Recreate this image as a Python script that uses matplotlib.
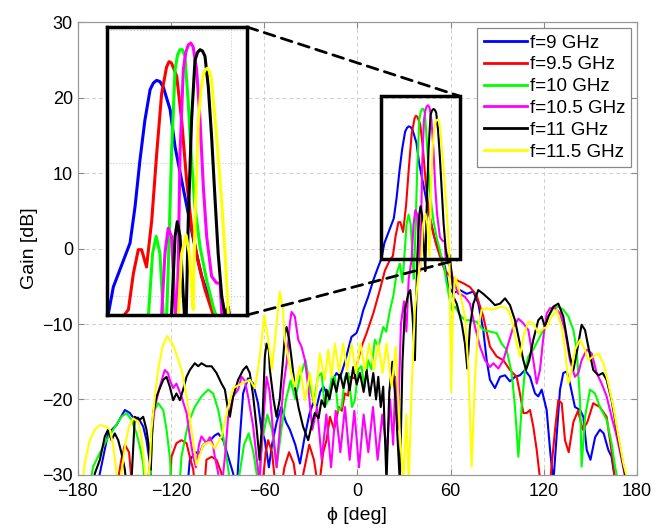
import matplotlib
matplotlib.use('Agg')
import matplotlib.pyplot as plt
from matplotlib.patches import Rectangle, ConnectionPatch

plt.rcParams['font.family'] = ['Liberation Sans', 'DejaVu Sans']

# gain patterns (phi in deg, gain in dB)
phi_9 = [-170, -166, -163, -160.5, -155.1, -149.7, -146.5, -143.3, -141.2, -137.9, -135.8, -133.6, -132,
         -110, -107.9, -104, -101.6, -99.3, -95, -92, -89.6, -86.4, -83.2, -80, -78, -76, -73.6, -70.4,
         -67.1, -64, -61.8, -59.6, -57, -55, -52, -49, -46, -43.5, -40, -37, -34, -31, -28.5, -26.3, -24,
         -22, -19, -16, -13.5, -11, -8, -5.5, -3.8, -0.6, 1.6, 3.7, 6.9, 10.2, 13.4, 15.5, 17.3, 21, 23.4,
         25.2, 27, 28.8, 30.7, 31.9, 33.1, 34.3, 35.5, 38, 39.8, 42.2, 44.6, 47.05, 49.5, 52.5, 54.3, 56.3, 58.5, 61.7,
         66, 70.3, 74.6, 77.8, 81, 83.2, 85.3, 88.5, 91.8, 95, 98.2, 101.4, 104.6, 107.8, 111.1, 114.3,
         116.4, 118.6, 121.8, 124, 126.1, 128.2, 130.4, 132.5, 134.7, 136.8, 140, 143.3, 145.4, 147.6, 150,
         153, 156.1, 158.5, 161.5, 163.6, 166, 168]
gain_9 = [-33, -30, -27, -24.5, -23.4, -21.4, -21.8, -22.7, -22.4, -23.6, -25.4, -28.5, -33,
          -33, -28, -27, -27.2, -26, -25.5, -24.8, -24.5, -25.4, -27.6, -29.8, -33, -26, -19.2, -17.2,
          -17.9, -20.5, -24, -25.4, -29, -26, -23, -21, -23, -24, -26, -28.5, -25, -22, -20.5, -21, -19,
          -18.3, -19.5, -17.5, -16.5, -17, -15, -13, -11.7, -11.2, -9.9, -8.2, -6.4, -4.2, -2.4, -1.3, 0.7, 2.7, 4.0,
          6.7, 10.2, 13.2, 15.5, 16.0, 16.2, 16.1, 15.7, 14, 11.2, 8.7, 6.2, 3.7, 1.5, -0.3, -1.3, -2.4, -5.1, -5.9,
          -5.5, -6, -5.7, -7.3, -10.8, -14.8, -17.4, -18.5, -17, -16.8, -17.6, -17, -16.8, -16.1, -17, -19.2,
          -19.6, -18.7, -21.4, -26.7, -31, -24.9, -18.7, -16.5, -16.3, -17.9, -21, -21.4, -22.3, -26.7, -28,
          -25, -24, -24.5, -26.7, -27.6, -31, -33]

phi_95 = [-156, -152, -149.7, -147, -144.5, -121, -119.7, -116.5, -113.3, -110, -107.9, -105.7, -104,
          -99, -97.2, -93.9, -90.7, -87.5, -86, -62, -59, -57.5, -55, -53, -50, -47, -44, -41, -38, -34,
          -31, -28, -25, -22, -19.9, -17.7, -15, -12, -10, -8.1, -6, -4.9, -2, -0.6, 2.6, 5.9, 10.2, 14.4,
          17.7, 20.9, 22.8, 24.6, 26.4, 27.6, 29.4, 31.3, 33.1, 34.9, 36.7, 37.6, 38.5, 40.4, 42.2, 44, 45.8,
          48.3, 50.7, 53.7, 56, 60, 63.9, 68.2, 72.4, 76.7, 81, 85.3, 89.6, 93.9, 98.2, 102.5, 104.6, 106.8,
          108.9, 111.1, 113.2, 115.4, 117.5, 120, 124, 127.2, 129.3, 131.5, 133.6, 136, 139, 142, 145, 148,
          151.8, 156, 160.4, 164.7, 167]
gain_95 = [-33, -28, -26, -27, -33, -33, -27.6, -25.8, -25.4, -25.8, -27.6, -29.3, -33,
           -33, -28, -27.6, -28, -29.8, -33, -33, -27, -25.4, -27, -31, -33, -29, -27, -28.5, -33, -29,
           -26, -28, -32, -27, -25.4, -22.3, -24, -21, -21.5, -19.2, -19.5, -17, -17.2, -15.6, -13, -11.2, -8.6, -5.5,
           -2.9, -1.5, -1.0, 1.7, 3.5, 3.5, 2.2, 5.7, 10.7, 15.2, 17.2, 17.6, 17.5, 16.5, 13.2, 8.7, 5.2,
           2.5, 0.5, -1.4, -2.8, -3.8, -4.2, -4.6, -5.1, -6.2, -9, -13, -14.3, -14.8, -16.1, -17, -19.2, -21.8,
           -21.8, -21.4, -23.6, -26.7, -30.5, -33, -31, -24, -20.1, -20.5, -25.4, -27, -23, -21.5, -24, -23,
           -20.5, -21, -22.3, -28.5, -33]

phi_10 = [-174, -170.1, -165.8, -161.5, -157.2, -151.9, -148.7, -145.4, -142.2, -140.1, -137.9, -136.5,
          -134, -131.5, -128.3, -125, -122.9, -120.8, -119, -115, -113.3, -109, -104.7, -100.4, -96.1,
          -92.9, -89.6, -86.4, -84.3, -82.8, -81, -76, -73, -70, -67, -64, -61, -58, -55, -52, -49, -46,
          -43, -40, -37, -33.4, -30.6, -28, -25.5, -23.1, -21, -18.8, -16.5, -14.5, -12.5, -10.2, -8, -5.9,
          -3.5, -1.7, 0.5, 2.6, 4.5, 6.9, 9, 11.2, 13.5, 16.6, 18.5, 20.9, 23, 25.2, 27.3, 29, 30.1, 31.6,
          32.9, 34.3, 35.5, 36.3, 37.3, 38.5, 39.8, 40.7, 41.6, 42.5, 43.4, 44.6, 45.8, 47.05, 48.9, 51.3, 53.7, 55.5,
          57.4, 60.6, 62.8, 66, 69.2, 72.4, 76.7, 81, 85.3, 89.6, 92.8, 96, 99.3, 101.4, 103.6, 105.7, 107.8,
          110, 113.2, 116.4, 119.6, 122.9, 126.1, 129.3, 132.5, 135.8, 139, 141.1, 143.3, 144.3, 146.5,
          149.7, 152.9, 156.1, 160.4, 163.6, 165.8, 167.9, 169]
gain_10 = [-33, -28.9, -27.1, -25.4, -24, -22.3, -21.8, -22.7, -24.5, -26.2, -28.5, -33,
           -33, -21.8, -20.5, -21.4, -24, -27.6, -33, -33, -27.6, -23.2, -21, -19.6, -18.7,
           -19.2, -21.4, -24.9, -27.6, -29.8, -33, -30, -26, -24.5, -27, -31, -25, -22, -24, -29, -24, -20,
           -17.5, -20, -17, -14.8, -18.3, -20.5, -17, -16.5, -21, -20.1, -17, -17, -21.5, -21, -17, -16.5,
           -21, -20.1, -16, -15.6, -18.5, -14.8, -16, -12.1, -13, -10.4, -11, -8.2, -6.4, -3.3, -2.0, -4.5, -1.4, 3.2,
           4.5, 3.2, -1.4, -4, 2.0, 10.7, 17, 18.1, 18.5, 18.5, 18, 14.5, 10.2, 6.7, 3.7, 1.2, -0.8, -2,
           -4.6, -8.1, -7.7, -8.8, -9.5, -9.5, -9.7, -10.8, -11, -11.2, -12.6, -13.4, -16.5, -21, -27.6, -21, -16.1,
           -14.3, -13.4, -12.1, -10.8, -9, -7.9, -7.7, -8.1, -9, -10.8, -13.4, -20.1, -28.9, -22.3,
           -18.7, -19.2, -21, -22.7, -25.8, -28.9, -31, -33]

phi_105 = [-136, -133.6, -132.6, -130.4, -127.2, -124, -122, -120.8, -118.6, -116.5, -113.3, -110, -107.9,
           -105.7, -104, -102, -100.4, -97.2, -95, -93, -91.8, -89.6, -88, -85, -83.2, -80, -76.8, -74.6,
           -72.5, -70.4, -67.1, -65, -63, -61, -58.5, -56.5, -54, -52, -50, -47.5, -45.6, -43.5, -42.4,
           -40.3, -38.1, -36, -33.8, -31.7, -29, -26, -23, -20, -17, -14, -11, -8, -5, -2, 1, 4, 7, 10, 13,
           16, 19, 21, 23, 24.5, 26, 28, 30, 31.5, 33, 34.9, 36.1, 37.3, 38.5, 39.4, 40.3, 41, 41.6, 42.8,
           43.7, 44.6, 45.5, 46.4, 47.65, 48.9, 50.1, 51.3, 53.1, 54.9, 56.2, 56.8, 58, 59.6, 61.7, 64.9, 66, 69.2, 72.4,
           75.7, 78.9, 82.1, 85.3, 87.5, 90.7, 93.9, 97.1, 100.3, 103.6, 106.8, 110, 113.2, 115.4, 117.5,
           119.7, 121.8, 124, 127.2, 130.4, 133.6, 136.8, 140, 142.2, 144.3, 147.6, 150.8, 154, 157.2, 160.4,
           163.6, 166.9, 170.1, 172.2, 174]
gain_105 = [-33, -28.5, -24.9, -21, -18.3, -16.1, -16.5, -17.4, -18.5, -17.9, -19.6, -21.8, -24.9,
            -27.6, -29, -26, -24.9, -25.8, -25, -26, -27.6, -29.8, -33, -27, -22.3, -19.6, -18.7, -17,
            -17.5, -19.6, -23.6, -27.6, -31, -24, -17, -19, -25, -29, -24, -18, -15.2, -9.9, -8.4,
            -9, -12.1, -13, -14.8, -18.3, -24, -21, -28, -22, -29, -21.5, -27, -21, -28, -21.5, -29, -22, -27, -21, -28,
            -22, -27, -20, -26, -17, -24, -10, -7, -11, -4, -1.4, 3.2, 5.1, 4.5, 0.7, -3, 3, 10.7, 17,
            18.3, 18.85, 19.0, 18.7, 17, 13.2, 8.2, 4.5, 1.5, 1, 1, -1.3, -1.8, -2.4, -4.2, -6, -6, -6.4, -7.3,
            -10.4, -13, -14.8, -15.7, -15.2, -15.9, -14.8, -12.6, -10.4, -9.3, -9.9, -10.8, -14.8, -17.9, -16.1,
            -11.7, -8.6, -7.9, -7.9, -8.6, -10.8, -14.8, -17, -16.5, -14.8, -13.4, -13.9, -16.5, -17.9, -19.6,
            -22.3, -24.9, -28, -30.2, -33]

phi_11 = [-172, -169, -165.8, -162.6, -160.5, -158.3, -156.2, -154, -151.9, -149.7, -148, -146, -143.3,
          -140.1, -137.9, -135.8, -134.3, -133, -132.3, -131.5, -129.3, -127.2, -125, -122.9, -120.8, -118.6,
          -116.5, -114.3, -112.2, -110, -107.9, -104.7, -102.5, -100.4, -97.2, -93.9, -90.7, -87.5, -85.3,
          -83.6, -82.1, -80, -76.8, -73.6, -71.4, -69.3, -67.1, -65, -63, -61, -59.6, -58.5, -57, -56.4,
          -54, -52.1, -50, -48, -46.5, -45.6, -44, -42.4, -40.3, -38, -35, -31.7, -29, -27.4, -25, -23.1,
          -21, -19.9, -18, -15.6, -13.5, -11.3, -9, -7, -5, -2.7, -0.5, 1.6, 4, 5.9, 8, 10.2, 12, 13.4, 15,
          16.6, 18.7, 20.5, 22.5, 24.5, 27.3, 29, 30.5, 32.7, 34, 35.5, 37, 38.5, 39.8, 40.6, 41.6, 42.8,
          43.7, 44.6, 45.8, 47.05, 48, 48.9, 49.8, 50.7, 51.9, 53.1, 54.3, 55.5, 56.8, 58, 59.2, 60.5, 62, 63.9, 67.1,
          69.2, 70.7, 72.4, 74.6, 77.8, 81, 85.3, 88.5, 91.8, 95, 98.2, 101.4, 104.6, 106.8, 108.5, 110.6,
          113.2, 116.4, 118.6, 120.7, 122.9, 126.1, 129.3, 132.5, 134.7, 136.8, 139, 141.5, 144.3, 146.5,
          148.6, 151.8, 155.1, 157.9, 160.4, 163.6, 166.9, 170.1, 172.2, 174]
gain_11 = [-33, -29.8, -28, -24.9, -24, -25.4, -24.5, -25.4, -27.1, -29.3, -33, -33, -22.3,
           -22.7, -22.3, -24, -26.2, -29.3, -25, -21.8, -19.6, -18.5, -17.4, -17, -18.3, -20.1,
           -19.2, -20.1, -18.7, -17, -16.1, -15.2, -15.6, -15.2, -15.6, -15.6, -16.5, -17.9, -18.7,
           -21, -22.3, -19.6, -17.4, -16.1, -15.6, -16.5, -19.6, -23.6, -28, -22, -14.3, -12.6, -13.5, -16,
           -20, -22.3, -20, -15, -11, -10.4, -12, -14.6, -18.3, -21, -23.6, -25.4, -23, -21.8, -22.5, -20.1,
           -21, -18.7, -20, -17.4, -19, -16.5, -18.5, -16.5, -18.8, -15.7, -18, -16.5, -19, -16.1, -19.5, -16.5, -20, -17, -21,
           -18.3, -31, -19, -15, -20, -31, -15, -8.2, -6, -5.5, -9, -14.8, -1.4, 4.5, 5.6, 4.5, 0,
           -3, 5.7, 13.2, 17.7, 18.3, 18.5, 18.4, 18, 15.7, 12, 7.5, 3.2, 0, -1.4, -0.8, -3, -6.5, -7.3, -9.9,
           -12.6, -15.9, -10.4, -7.3, -5.5, -6, -6.8, -7.5, -7.3, -6.6, -7.5, -9.5, -12.6, -14.8, -16.1, -14.8,
           -12.1, -9.5, -9, -10.4, -9, -7.7, -7.3, -9, -11.7, -14.3, -16.1, -13.4, -10.1, -10.8,
           -13, -16.1, -16.8, -16.5, -17.4, -20.1, -24, -27.6, -29.8, -33]

phi_115 = [-178, -175.5, -172.3, -169, -165.8, -161.5, -159.4, -157.5, -156, -154.5, -152, -149.5, -147,
           -144.4, -141, -139, -137, -135.5, -133.5, -132.6, -130.4, -128.3, -125.5, -122.5, -119.5, -117.5,
           -113.2, -110, -106.8, -103.6, -99.3, -95, -91.8, -87.5, -83.2, -80, -74.6, -69.2, -66, -62.8, -60,
           -57.5, -55, -53, -50, -48, -46.7, -43.5, -40.3, -37, -33.8, -30.6, -27.4, -24.2, -21, -18.8, -16.7,
           -14.5, -11.7, -9.2, -6.6, -3.8, -1, 2, 4.8, 7.6, 10.6, 13.4, 16.2, 18.7, 22, 24.7, 27.3, 29.5,
           31.5, 33, 35, 37, 39, 41, 42.2, 43.8, 45, 45.8, 46.4, 47.05, 48.3, 49.3, 50.1, 50.8, 51.5, 52.3, 53.1, 54.9, 56.8,
           58, 59.2, 60.3, 61.5, 62.8, 66, 69.2, 71.4, 73.5, 75.7, 77.8, 80, 83.2, 86.4, 89.6, 92.8, 96, 98.2,
           100.3, 102.5, 104.6, 106.8, 110, 113.2, 116.4, 119.6, 121.8, 125, 128.2, 131.5, 133.6, 135.8,
           137.9, 140, 143.3, 146.5, 148.6, 151.8, 155.1, 158.3, 161.5, 164.7, 168, 171.2, 173.3, 175]
gain_115 = [-33, -28.4, -25.4, -24, -23.4, -23.6, -24, -25.8, -28, -31, -30, -26, -23.5,
            -22.5, -23, -25, -29, -33, -28, -24, -19.6, -16.1, -13, -11.6, -12.5, -13.4,
            -16.1, -19.6, -24, -28.7, -26, -25.6, -26.5, -24.9, -21, -18.5, -17.9, -17.4, -18.5, -14.3, -8.8,
            -12, -16, -12, -5.7, -8, -12.1, -15.7, -18.3, -15.6, -20.1, -16.5, -21, -13.9, -17.4, -13.4, -17,
            -12.6, -16.5, -12.6, -16.1, -12.6, -16.5, -12.6, -16.1, -12.6, -16.1, -12.6, -16.5, -12.6, -18.3, -13, -24.5, -31,
            -22, -31, -18, -8, -4, -1.4, 3.2, 4.6, 3.2, 0.7, -1.0, 5.7, 13.2, 15.6, 16.7, 17.0, 17.1, 16.9, 16.2, 12, 7,
            3.2, -1.3, -19, -8, -3.7, -5.9, -9, -15.7, -28.9, -17, -10.4, -8.1, -7.9, -8.1, -7.9, -7.7, -7.9, -8.6,
            -10.4, -12.6, -14.3, -11.7, -9.7, -9.9, -11.2, -10.6, -10.4, -9, -8.1, -10.4, -13.4, -17.9,
            -16.1, -13.4, -12.1, -13.4, -14.8, -14.3, -13.9, -15.2, -17.9, -21, -24.9, -28.5, -30.2, -33]

labels = ['f=9 GHz', 'f=9.5 GHz', 'f=10 GHz', 'f=10.5 GHz', 'f=11 GHz', 'f=11.5 GHz']
colors = ['#0000ff', '#ff0000', '#00ff00', '#ff00ff', '#000000', '#ffff00']
series = [(phi_9, gain_9), (phi_95, gain_95), (phi_10, gain_10),
          (phi_105, gain_105), (phi_11, gain_11), (phi_115, gain_115)]

zoom_x = (15, 66)
zoom_y = (-1.4, 20.2)

fig = plt.figure(figsize=(6.65, 5.3), dpi=100)
ax = fig.add_axes([0.117, 0.104, 0.841, 0.854])

for (phi, gain), c, lab in zip(series, colors, labels):
    ax.plot(phi, gain, color=c, lw=1.5, label=lab, solid_joinstyle='round')

ax.set_xlim(-180, 180)
ax.set_ylim(-30, 30)
ax.set_xticks(range(-180, 181, 60))
ax.set_yticks(range(-30, 31, 10))
ax.grid(True, ls=(0, (4, 3)), color='#cfcfcf', lw=0.7)
ax.tick_params(direction='in', length=4, color='#888888', labelsize=13, top=True, right=True)
ax.tick_params(axis='x', pad=6)
for s in ax.spines.values():
    s.set_color('#999999')
    s.set_linewidth(0.9)
ax.set_xlabel('\u03d5 [deg]', fontsize=14, labelpad=5)
ax.set_ylabel('Gain [dB]', fontsize=14, labelpad=3)

leg = ax.legend(loc='upper right', fontsize=13.5, frameon=True, fancybox=False,
                edgecolor='#888888', framealpha=1, borderaxespad=0.3,
                handlelength=2.3, handletextpad=0.15, labelspacing=0.25, borderpad=0.35)
leg.get_frame().set_linewidth(0.9)
for line in leg.get_lines():
    line.set_linewidth(2)

# zoom box on the main lobe
ax.add_patch(Rectangle((zoom_x[0], zoom_y[0]), zoom_x[1] - zoom_x[0], zoom_y[1] - zoom_y[0],
                       fill=False, ec='k', lw=2.5, zorder=6))

# inset with the magnified main lobe
axin = fig.add_axes([107 / 665, 1 - 315 / 530, 140 / 665, 288 / 530])
for (phi, gain), c in zip(series, colors):
    axin.plot(phi, gain, color=c, lw=2.2, solid_joinstyle='round')
axin.set_xlim(*zoom_x)
axin.set_ylim(*zoom_y)
axin.set_xticks([60])
axin.set_yticks([0, 10, 20])
axin.tick_params(length=0, labelbottom=False, labelleft=False)
axin.grid(True, ls=':', color='#cccccc', lw=0.8)
for s in axin.spines.values():
    s.set_color('k')
    s.set_linewidth(2.5)

for ya, yb in [(1, zoom_y[1]), (0, zoom_y[0])]:
    con = ConnectionPatch(xyA=(1, ya), coordsA=axin.transAxes,
                          xyB=(zoom_x[1], yb), coordsB=ax.transData,
                          ls=(0, (4, 2.5)), lw=2, color='k', zorder=7)
    fig.add_artist(con)

fig.savefig('out.png', dpi=100)
